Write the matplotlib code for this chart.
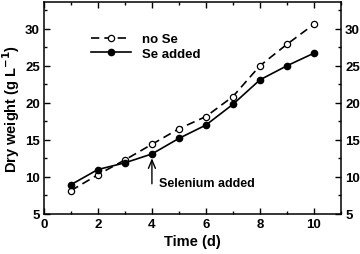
import matplotlib
matplotlib.use("Agg")
import matplotlib.pyplot as plt
from matplotlib.ticker import MultipleLocator

plt.rcParams["font.family"] = ["Liberation Sans", "DejaVu Sans"]
plt.rcParams["font.weight"] = "bold"
plt.rcParams["mathtext.default"] = "bf"

days = [1, 2, 3, 4, 5, 6, 7, 8, 9, 10]
no_se = [8.15, 10.3, 12.3, 14.4, 16.5, 18.15, 20.85, 25.0, 27.9, 30.6]
se_added = [8.95, 11.0, 11.9, 13.1, 15.2, 17.0, 19.8, 23.1, 25.0, 26.7]

fig = plt.figure(figsize=(3.6, 2.55), dpi=100)
ax = fig.add_axes([0.122, 0.157, 0.825, 0.831])

ax.plot(days, no_se, "--", color="black", lw=1.2, dashes=(5, 3),
        marker="o", mfc="white", mec="black", ms=4.5, mew=0.9, label="no Se")
ax.plot(days, se_added, "-", color="black", lw=1.2,
        marker="o", mfc="black", mec="black", ms=4.5, label="Se added")

ax.set_xlim(0, 11)
ax.set_ylim(5, 33.6)
ax.xaxis.set_major_locator(MultipleLocator(2))
ax.xaxis.set_minor_locator(MultipleLocator(1))
ax.yaxis.set_major_locator(MultipleLocator(5))
ax.yaxis.set_minor_locator(MultipleLocator(2.5))
ax.tick_params(which="both", direction="in", top=True, right=True,
               labelright=True, labelsize=9.5, width=1)
ax.tick_params(which="major", length=4, pad=3)
ax.tick_params(which="minor", length=2.5)
for s in ax.spines.values():
    s.set_linewidth(1.1)

ax.set_xlabel("Time (d)", fontsize=10.5, fontweight="bold", labelpad=3)
ax.set_ylabel("Dry weight (g L$^{-1}$)", fontsize=10.5, fontweight="bold", labelpad=2)

ax.annotate("", xy=(4, 12.9), xytext=(4, 8.7),
            arrowprops=dict(arrowstyle="->,head_length=0.6,head_width=0.25",
                            color="black", lw=1.0))
ax.text(4.25, 9.2, "Selenium added", fontsize=9, fontweight="bold", va="center")

leg = ax.legend(loc="upper left", bbox_to_anchor=(0.12, 0.91), frameon=False,
                fontsize=9.5, handlelength=3, handletextpad=0.8, labelspacing=0.2)

fig.savefig("out.png", dpi=100)
